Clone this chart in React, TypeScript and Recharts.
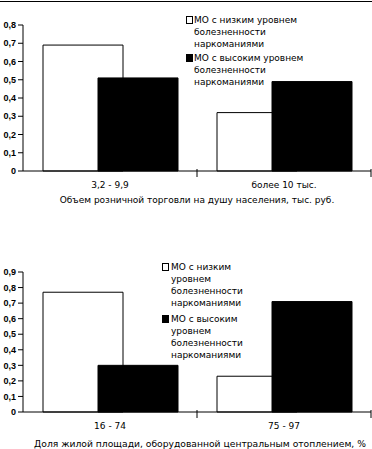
import { BarChart, Bar, XAxis, YAxis } from "recharts";

const seriesNames = [
  "МО с низким уровнем болезненности наркоманиями",
  "МО с высоким уровнем болезненности наркоманиями",
];

// верхний график
const tradeCategories = ["3,2 - 9,9", "более 10 тыс."];
const tradeLow = [0.69, 0.32];
const tradeHigh = [0.51, 0.49];
const tradeTicks = [0, 0.1, 0.2, 0.3, 0.4, 0.5, 0.6, 0.7, 0.8];
const tradeTitle = "Объем розничной торговли на душу населения, тыс. руб.";

// нижний график
const heatCategories = ["16 - 74", "75 - 97"];
const heatLow = [0.77, 0.23];
const heatHigh = [0.3, 0.71];
const heatTicks = [0, 0.1, 0.2, 0.3, 0.4, 0.5, 0.6, 0.7, 0.8, 0.9];
const heatTitle = "Доля жилой площади, оборудованной центральным отоплением, %";

const font = "'DejaVu Sans', Verdana, sans-serif";
const tickFont = "Arial, 'Liberation Sans', sans-serif";

const fmt = (v: number) => (v === 0 ? "0" : v.toFixed(1).replace(".", ","));

const makeData = (cats: string[], low: number[], high: number[]) =>
  cats.map((c, i) => ({ name: c, low: low[i], high: high[i] }));

const CatTick = (props: any) => {
  const { x, y, payload } = props;
  return (
    <g>
      {/* засечки на границах категорий */}
      <line x1={x + 87} x2={x + 87} y1={y - 10} y2={y - 2} stroke="#000" />
      <text
        x={x}
        y={y + 9}
        textAnchor="middle"
        fontSize={9}
        fontFamily={font}
        fill="#000"
      >
        {payload.value}
      </text>
    </g>
  );
};

function LegendBox({
  top,
  left,
  width,
  gap,
  pad,
}: {
  top: number;
  left: number;
  width: number;
  gap: number;
  pad: number;
}) {
  return (
    <div
      style={{
        position: "absolute",
        top,
        left,
        width,
        fontFamily: font,
        fontSize: 9,
        lineHeight: "12px",
        color: "#000",
      }}
    >
      {seriesNames.map((n, i) => (
        <div
          key={n}
          style={{ position: "relative", paddingLeft: pad, marginBottom: i === 0 ? gap : 0 }}
        >
          <span
            style={{
              position: "absolute",
              left: 0,
              top: 2,
              width: 5,
              height: 6,
              border: "1px solid #000",
              background: i === 0 ? "#fff" : "#000",
            }}
          />
          {n}
        </div>
      ))}
    </div>
  );
}

function Chart({
  data,
  ticks,
  max,
  height,
  marginTop,
  axisHeight,
}: {
  data: any[];
  ticks: number[];
  max: number;
  height: number;
  marginTop: number;
  axisHeight: number;
}) {
  return (
    <BarChart
      width={372}
      height={height}
      data={data}
      margin={{ top: marginTop, right: 1, left: 0, bottom: 0 }}
      barSize={80}
      barGap={-25}
    >
      <XAxis
        dataKey="name"
        height={axisHeight}
        axisLine={{ stroke: "#000" }}
        tickLine={false}
        interval={0}
        tick={<CatTick />}
      />
      <YAxis
        width={23}
        domain={[0, max]}
        ticks={ticks}
        interval={0}
        tickFormatter={fmt}
        axisLine={{ stroke: "#000" }}
        tickLine={{ stroke: "#000" }}
        tickSize={5}
        tick={{ fontSize: 9, fontFamily: tickFont, fontWeight: "bold", fill: "#000" }}
      />
      <Bar dataKey="low" fill="#fff" stroke="#000" strokeWidth={1} isAnimationActive={false} />
      <Bar dataKey="high" fill="#000" stroke="#000" isAnimationActive={false} />
    </BarChart>
  );
}

export default function App() {
  return (
    <div
      style={{
        position: "absolute",
        left: 0,
        top: 0,
        width: 372,
        height: 449,
        background: "#fff",
        fontFamily: font,
      }}
    >
      <div style={{ position: "absolute", left: 0, top: 1, width: 372, height: 1, background: "#000" }} />

      <div style={{ position: "absolute", left: 0, top: 0 }}>
        <Chart
          data={makeData(tradeCategories, tradeLow, tradeHigh)}
          ticks={tradeTicks}
          max={0.8}
          height={215}
          marginTop={25}
          axisHeight={44}
        />
      </div>
      <div
        style={{
          position: "absolute",
          left: 23,
          top: 195,
          width: 348,
          textAlign: "center",
          fontSize: 9,
          whiteSpace: "nowrap",
          color: "#000",
        }}
      >
        {tradeTitle}
      </div>
      <LegendBox top={14} left={186} width={130} gap={2} pad={8} />

      <div style={{ position: "absolute", left: 0, top: 230 }}>
        <Chart
          data={makeData(heatCategories, heatLow, heatHigh)}
          ticks={heatTicks}
          max={0.9}
          height={219}
          marginTop={42}
          axisHeight={37}
        />
      </div>
      <div
        style={{
          position: "absolute",
          left: 23,
          top: 438,
          width: 354,
          textAlign: "center",
          fontSize: 9.2,
          whiteSpace: "nowrap",
          color: "#000",
        }}
      >
        {heatTitle}
      </div>
      <LegendBox top={261} left={162} width={90} gap={4} pad={9} />
    </div>
  );
}
